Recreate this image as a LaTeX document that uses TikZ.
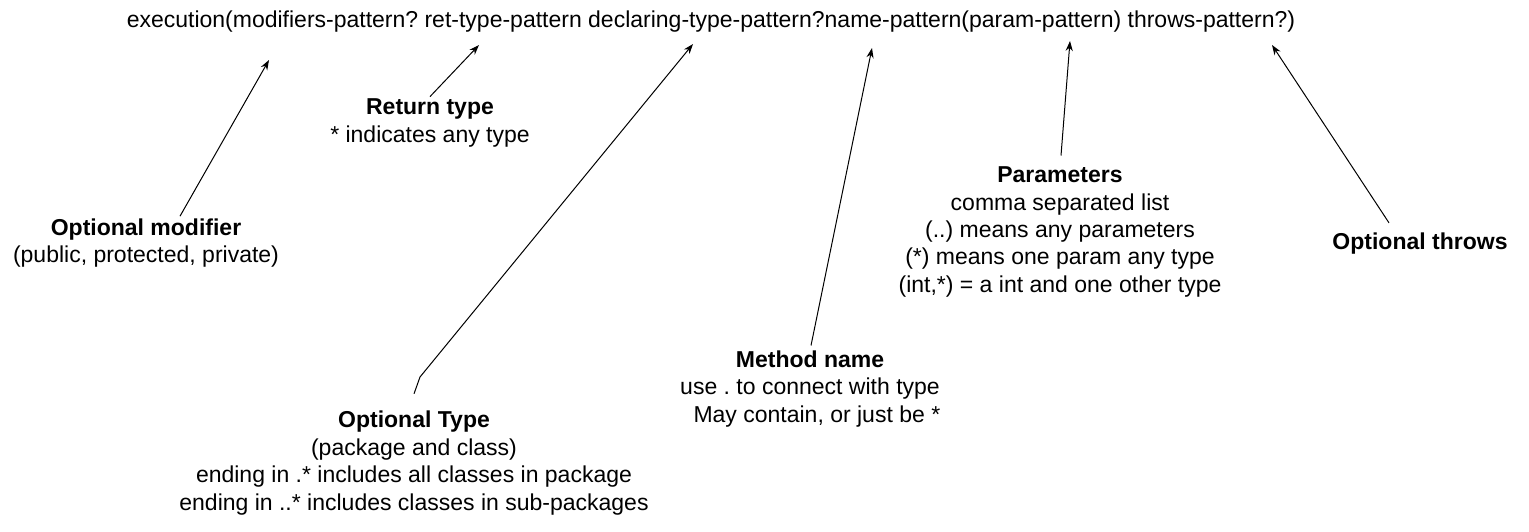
\documentclass[tikz,border=0pt]{standalone}
\usepackage{fontspec}
\setmainfont{Liberation Sans}
\usetikzlibrary{arrows.meta, calc}
\frenchspacing

\begin{document}
\begin{tikzpicture}[
  x=0.5pt, y=-0.5pt,
  font=\fontsize{11.5}{13.7}\selectfont,
  >={Stealth[length=5pt,width=3.6pt]},
  lbl/.style ={align=center, inner sep=1pt},
  ptr/.style ={->, line width=0.5pt},
]
\useasboundingbox (0,0) rectangle (1529,531);

% ---------- pointcut signature ----------
\node[lbl] (sig) at (711,22) {execution(modifiers-pattern? ret-type-pattern declaring-type-pattern?name-pattern(param-pattern) throws-pattern?)};

% ---------- explanations below ----------
\node[lbl] (mod)  at (146,243) {\textbf{Optional modifier}\\(public, protected, private)};
\node[lbl] (ret)  at (430,123) {\textbf{Return type}\\* indicates any type};
\node[lbl] (type) at (414,463) {\textbf{Optional Type}\\(package and class)\\ending in .* includes all classes in package\\ending in ..* includes classes in sub-packages};
\node[lbl] (meth) at (810,389) {\textbf{Method name}\\use . to connect with type\\\hspace*{0.6em}May contain, or just be *};
\node[lbl] (par)  at (1060,232) {\textbf{Parameters}\\comma separated list\\(..) means any parameters\\(*) means one param any type\\(int,*) = a int and one other type};
\node[lbl] (thr)  at (1420,244) {\textbf{Optional throws}};

% arrow tips just under the signature
\coordinate (tmod)  at (269,60);
\coordinate (tret)  at (479,45);
\coordinate (ttype) at (693,44);
\coordinate (tmeth) at (872,48);
\coordinate (tpar)  at (1070,41);
\coordinate (tthr)  at (1272,45);
\coordinate (kink)  at (420,377);

\draw[ptr] ($(mod.north)+(34,0)$) -- (tmod);
\draw[ptr] (ret.north) -- (tret);
\draw[ptr] ($(type.north)+(0,-15)$) -- (kink) -- (ttype);
\draw[ptr] ($(meth.north)+(1,-3)$) -- (tmeth);
\draw[ptr] ($(par.north)+(1,-9)$) -- (tpar);
\draw[ptr] ($(thr.north)+(-31,-8)$) -- (tthr);

\end{tikzpicture}
\end{document}
